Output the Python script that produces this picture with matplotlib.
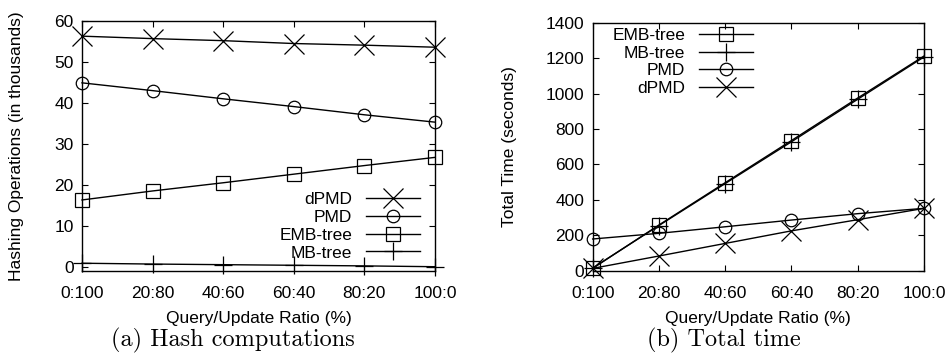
import numpy as np
import matplotlib
matplotlib.use('Agg')
import matplotlib.pyplot as plt

# Query/Update ratios on the x axis
ratios = ['0:100', '20:80', '40:60', '60:40', '80:20', '100:0']

# (a) Hashing operations, in thousands
hash_dpmd = [56.3, 55.7, 55.2, 54.5, 54.1, 53.6]
hash_pmd = [44.9, 43.0, 41.0, 39.1, 37.1, 35.3]
hash_emb = [16.3, 18.5, 20.5, 22.6, 24.7, 26.7]
hash_mb = [0.85, 0.65, 0.5, 0.35, 0.2, 0.0]

# (b) Total time, seconds
time_emb = [13, 258, 497, 735, 975, 1212]
time_mb = [15, 255, 492, 728, 968, 1207]
time_pmd = [179, 211, 248, 286, 322, 352]
time_dpmd = [13, 83, 154, 225, 288, 352]

plt.rcParams['font.family'] = ['Liberation Sans', 'DejaVu Sans']
plt.rcParams['font.size'] = 12.5

# marker styles, gnuplot-like
styles = {
    'dPMD': dict(marker='x', markersize=14),
    'PMD': dict(marker='o', markersize=9, markerfacecolor='none'),
    'EMB-tree': dict(marker='s', markersize=10, markerfacecolor='none'),
    'MB-tree': dict(marker='+', markersize=13),
}


def style_axes(ax):
    ax.tick_params(direction='in', top=True, right=True, length=4, width=0.8)
    ax.tick_params(axis='x', pad=11)
    ax.tick_params(axis='y', pad=6)
    for s in ax.spines.values():
        s.set_linewidth(1.0)
    ax.set_xticks(range(len(ratios)))
    ax.set_xticklabels(ratios)
    ax.set_xlim(0, len(ratios) - 1)


def draw(ax, name, vals):
    ax.plot(range(len(vals)), vals, color='black', lw=1.0, mew=0.9,
            label=name, clip_on=False, **styles[name])


legend_opts = dict(frameon=False, markerfirst=False, handlelength=3.1,
                   handletextpad=0.8, labelspacing=0.15, borderpad=0.0,
                   borderaxespad=0)

fig = plt.figure(figsize=(9.49, 3.56), dpi=100)

# ---- (a) Hash computations ----
ax1 = fig.add_axes([0.0864, 0.2393, 0.372, 0.7017])
draw(ax1, 'dPMD', hash_dpmd)
draw(ax1, 'PMD', hash_pmd)
draw(ax1, 'EMB-tree', hash_emb)
draw(ax1, 'MB-tree', hash_mb)
style_axes(ax1)
ax1.set_ylim(-1, 60)
ax1.set_yticks(np.arange(0, 61, 10))
ax1.set_ylabel('Hashing Operations (in thousands)', labelpad=22)
ax1.set_xlabel('Query/Update Ratio (%)', labelpad=7)
ax1.legend(loc='upper right', bbox_to_anchor=(0.958, 0.315), **legend_opts)

# ---- (b) Total time ----
ax2 = fig.add_axes([0.6245, 0.2396, 0.3492, 0.6966])
draw(ax2, 'EMB-tree', time_emb)
draw(ax2, 'MB-tree', time_mb)
draw(ax2, 'PMD', time_pmd)
draw(ax2, 'dPMD', time_dpmd)
style_axes(ax2)
ax2.set_ylim(0, 1400)
ax2.set_yticks(np.arange(0, 1401, 200))
ax2.set_ylabel('Total Time (seconds)', labelpad=21)
ax2.set_xlabel('Query/Update Ratio (%)', labelpad=7)
ax2.legend(loc='upper left', bbox_to_anchor=(0.06, 0.98), **legend_opts)

# subfigure captions
fig.text(0.245, 0.045, '(a) Hash computations', family='cmr10',
         fontsize=17.5, ha='center', va='center')
fig.text(0.7624, 0.045, '(b) Total time', family='cmr10',
         fontsize=17.5, ha='center', va='center')

fig.savefig('out.png', dpi=100)
